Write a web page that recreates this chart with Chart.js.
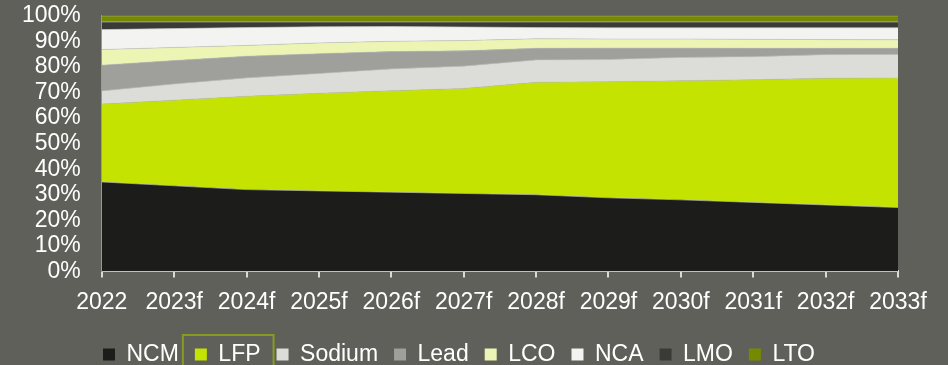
<!DOCTYPE html>
<html>
<head>
<meta charset="utf-8">
<script src="https://cdn.jsdelivr.net/npm/chart.js@4.4.1/dist/chart.umd.min.js"></script>
<style>
    html, body { margin: 0; padding: 0; background: #5f605a; }
    #wrap { width: 948px; height: 365px; }
</style>
</head>
<body>
<div id="wrap"><canvas id="mixBaterias"></canvas></div>
<script>
// años (eje x)
const anios = ["2022", "2023f", "2024f", "2025f", "2026f", "2027f", "2028f", "2029f", "2030f", "2031f", "2032f", "2033f"];
const ticksY = [0, 10, 20, 30, 40, 50, 60, 70, 80, 90, 100];

// participación por química (%)
const ncm    = [35.0, 33.5, 32.0, 31.5, 31.0, 30.5, 30.0, 28.8, 28.0, 27.0, 26.0, 25.0];
const lfp    = [30.5, 33.5, 36.5, 38.2, 39.7, 41.1, 44.0, 45.4, 46.6, 48.0, 49.6, 50.7];
const sodium = [5.1, 6.3, 7.2, 7.7, 8.5, 8.7, 8.7, 8.7, 9.1, 9.0, 9.2, 9.2];
const lead   = [10.1, 9.2, 8.5, 7.8, 6.8, 6.0, 4.6, 4.5, 3.7, 3.3, 2.5, 2.4];
const lco    = [6.1, 5.1, 4.2, 4.2, 4.0, 4.0, 3.7, 3.5, 3.5, 3.5, 3.4, 3.3];
const nca    = [7.8, 7.4, 7.0, 6.3, 5.8, 5.3, 4.4, 4.4, 4.4, 4.5, 4.6, 4.7];
const lmo    = [3.0, 2.6, 2.2, 1.9, 1.8, 2.0, 2.2, 2.3, 2.3, 2.3, 2.3, 2.3];
const lto    = [2.4, 2.4, 2.4, 2.4, 2.4, 2.4, 2.4, 2.4, 2.4, 2.4, 2.4, 2.4];

const series = [
    ["NCM", ncm, "#1c1c1a"],
    ["LFP", lfp, "#c4e300"],
    ["Sodium", sodium, "#dcdcd8"],
    ["Lead", lead, "#9f9f9b"],
    ["LCO", lco, "#ecf5b4"],
    ["NCA", nca, "#f3f3f1"],
    ["LMO", lmo, "#3a3b37"],
    ["LTO", lto, "#768a00"]
];

const datasets = series.map((s, i) => ({
    label: s[0],
    data: s[1],
    backgroundColor: s[2],
    borderColor: "rgba(200,200,195,0.8)",
    borderWidth: 0.8,
    pointRadius: 0,
    tension: 0,
    fill: i === 0 ? "origin" : "-1"
}));

// recuadro alrededor de LFP en la leyenda
const marcoLFP = {
    id: "marcoLFP",
    afterDraw(chart) {
        const box = chart.legend.legendHitBoxes[1];
        if (!box) return;
        const c = chart.ctx;
        c.save();
        c.strokeStyle = "#8a9a1e";
        c.lineWidth = 2;
        c.strokeRect(box.left - 12, box.top - 8, box.width + 25, box.height + 24);
        c.restore();
    }
};

Chart.defaults.font.family = "'Liberation Sans', Arial, sans-serif";
Chart.defaults.color = "#ffffff";

const ctx = document.getElementById("mixBaterias").getContext("2d");
new Chart(ctx, {
    type: "line",
    data: { labels: anios, datasets },
    options: {
        responsive: true,
        maintainAspectRatio: false,
        animation: false,
        layout: { padding: { left: 20, right: 50, top: 0, bottom: -11 } },
        scales: {
            x: {
                offset: false,
                grid: { drawOnChartArea: false, drawTicks: true, tickLength: 6, color: "#d9d9d9", lineWidth: 2 },
                border: { color: "#d9d9d9", width: 2 },
                ticks: { color: "#ffffff", font: { size: 23 }, padding: 11, maxRotation: 0, autoSkip: false }
            },
            y: {
                stacked: true,
                min: 0,
                max: 100,
                afterBuildTicks: axis => { axis.ticks = ticksY.map(v => ({ value: v })); },
                grid: { drawOnChartArea: false, drawTicks: true, tickLength: 19, color: "transparent" },
                border: { color: "#9a9a95", width: 1 },
                ticks: { color: "#ffffff", font: { size: 23 }, padding: 2, autoSkip: false, callback: v => v + "%" }
            }
        },
        plugins: {
            legend: {
                position: "bottom",
                labels: {
                    color: "#ffffff",
                    font: { size: 23 },
                    boxWidth: 12,
                    boxHeight: 12,
                    padding: 16,
                    generateLabels: chart => chart.data.datasets.map((d, i) => ({
                        text: d.label,
                        fillStyle: d.backgroundColor,
                        strokeStyle: d.backgroundColor,
                        lineWidth: 0,
                        fontColor: "#ffffff",
                        datasetIndex: i
                    }))
                }
            },
            tooltip: { enabled: false }
        }
    },
    plugins: [marcoLFP]
});
</script>
</body>
</html>
